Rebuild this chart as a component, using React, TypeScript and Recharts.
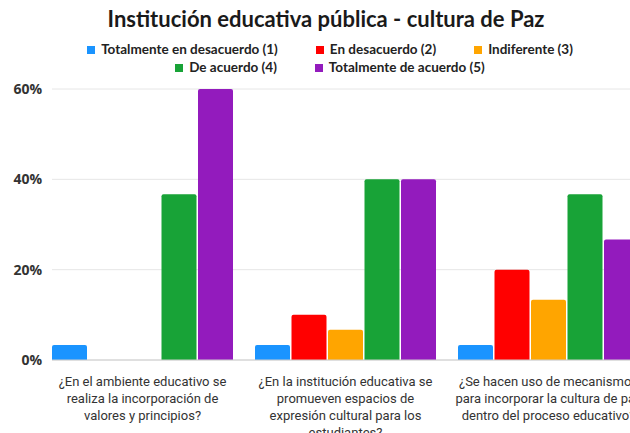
import React from 'react';
import { BarChart, Bar, XAxis, YAxis, CartesianGrid } from 'recharts';

const TITLE = 'Institución educativa pública - cultura de Paz';

const CATEGORIES = [
  '¿En el ambiente educativo se\nrealiza la incorporación de\nvalores y principios?',
  '¿En la institución educativa se\npromueven espacios de\nexpresión cultural para los\nestudiantes?',
  '¿Se hacen uso de mecanismos\npara incorporar la cultura de paz\ndentro del proceso educativo?',
];

const SERIES = [
  { key: 's1', name: 'Totalmente en desacuerdo (1)', color: '#1a94ff' },
  { key: 's2', name: 'En desacuerdo (2)', color: '#ff0000' },
  { key: 's3', name: 'Indiferente (3)', color: '#ffa500' },
  { key: 's4', name: 'De acuerdo (4)', color: '#18a337' },
  { key: 's5', name: 'Totalmente de acuerdo (5)', color: '#931bbd' },
];

// share of answers per category, in the order of SERIES
const TOTALMENTE_DESACUERDO = [0.0333, 0.0333, 0.0333];
const DESACUERDO = [0, 0.1, 0.2];
const INDIFERENTE = [0, 0.0667, 0.1333];
const DE_ACUERDO = [0.3667, 0.4, 0.3667];
const TOTALMENTE_ACUERDO = [0.6, 0.4, 0.2667];

const Y_TICKS = [0, 0.2, 0.4, 0.6];

const data = CATEGORIES.map((cat, i) => ({
  cat,
  s1: TOTALMENTE_DESACUERDO[i],
  s2: DESACUERDO[i],
  s3: INDIFERENTE[i],
  s4: DE_ACUERDO[i],
  s5: TOTALMENTE_ACUERDO[i],
}));

const CategoryTick = (props: any) => {
  const { x, y, payload } = props;
  const lines = String(payload.value).split('\n');
  return (
    <text x={x} y={y} textAnchor="middle" fill="#333" fontFamily="Roboto" fontSize={13}>
      {lines.map((l, i) => (
        <tspan key={i} x={x} dy={i === 0 ? 18 : 17}>{l}</tspan>
      ))}
    </text>
  );
};

export default function App() {
  return (
    <div style={{ position: 'absolute', left: 0, top: 0, width: 630, height: 433, overflow: 'hidden', background: '#fff' }}>
      <div style={{ position: 'absolute', top: 5, left: 0, width: 652, textAlign: 'center', fontFamily: 'Lato', fontWeight: 700, fontSize: 22, color: '#1a1a1a' }}>
        {TITLE}
      </div>
      <div style={{ position: 'absolute', top: 41, left: 60, width: 540, display: 'flex', flexWrap: 'wrap', justifyContent: 'center', columnGap: 38, rowGap: 1, fontFamily: 'Lato', fontWeight: 700, fontSize: 13.5, color: '#222' }}>
        {SERIES.map(s => (
          <div key={s.key} style={{ display: 'flex', alignItems: 'center', lineHeight: '17px' }}>
            <span style={{ width: 8, height: 8, background: s.color, marginRight: 6, display: 'inline-block' }} />
            {s.name}
          </div>
        ))}
      </div>
      <BarChart width={660} height={433} data={data} margin={{ top: 89, right: 10, bottom: 0, left: 0 }} barCategoryGap={11} barGap={1.5}>
        <CartesianGrid vertical={false} stroke="#e6e6e6" />
        <XAxis dataKey="cat" height={73} padding={{ left: -11, right: 0 }} tickLine={false} axisLine={{ stroke: '#cccccc' }} tick={<CategoryTick />} interval={0} />
        <YAxis domain={[0, 0.6]} ticks={Y_TICKS} width={52} tickLine={false} axisLine={false} tickSize={0} tickMargin={10}
          tickFormatter={(v: number) => `${Math.round(v * 100)}%`}
          tick={{ fill: '#333', fontFamily: 'Open Sans', fontWeight: 700, fontSize: 14 }} />
        {SERIES.map(s => (
          <Bar key={s.key} dataKey={s.key} name={s.name} fill={s.color} radius={[2, 2, 0, 0]} isAnimationActive={false} />
        ))}
      </BarChart>
    </div>
  );
}
